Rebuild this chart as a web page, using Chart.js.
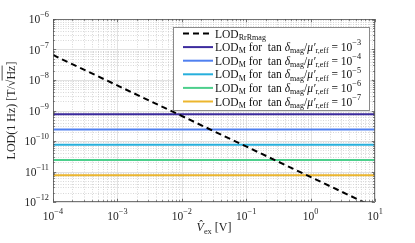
<!DOCTYPE html>
<html>
<head>
<meta charset="utf-8">
<script src="https://cdn.jsdelivr.net/npm/chart.js@4"></script>
<style>
  html, body { margin: 0; padding: 0; background: #fff; }
</style>
</head>
<body>
<canvas id="myChart" width="415" height="243"></canvas>
<script>
// values
const vexRange = [1e-4, 10];
const lodRrRmag = [6.6e-8, 6.6e-13];
const lossExponents = [-3, -4, -5, -6, -7];
const lodM = [7.5e-10, 2.4e-10, 7.5e-11, 2.4e-11, 7.5e-12];
const xDecades = [-4, -3, -2, -1, 0, 1];
const yDecades = [-12, -11, -10, -9, -8, -7, -6];
const lineColors = ['#3c2b9e', '#5080f0', '#26afdc', '#4ccf8c', '#ecb62e'];

const SERIF = '"Liberation Serif", "DejaVu Serif", serif';

// draws text made of pieces with optional sub/superscript, returns width
function rich(ctx, x, y, segs, size, measureOnly) {
    let cx = x;
    for (const s of segs) {
        let fs = size, dy = 0;
        if (s.s === 'sub') { fs = size * 0.7; dy = size * 0.28; }
        if (s.s === 'sup') { fs = size * 0.72; dy = -size * 0.42; }
        ctx.font = (s.i ? 'italic ' : '') + fs + 'px ' + SERIF;
        const w = ctx.measureText(s.t).width;
        if (!measureOnly) ctx.fillText(s.t, cx, y + dy);
        if (s.over && !measureOnly) {
            ctx.save();
            ctx.lineWidth = 0.8;
            ctx.strokeStyle = ctx.fillStyle;
            ctx.beginPath();
            ctx.moveTo(cx - 1, y - size * 0.78);
            ctx.lineTo(cx + w, y - size * 0.78);
            ctx.stroke();
            ctx.restore();
        }
        cx += w + (s.gap || 0);
    }
    return cx - x;
}

function minorValues(decades) {
    const out = [];
    for (let i = 0; i < decades.length - 1; i++) {
        for (let k = 2; k <= 9; k++) out.push(k * Math.pow(10, decades[i]));
    }
    return out;
}

const datasets = [{
    label: 'RrRmag',
    data: vexRange.map((v, i) => ({ x: v, y: lodRrRmag[i] })),
    borderColor: '#000',
    borderWidth: 2,
    borderDash: [6, 4],
    pointRadius: 0
}];
lodM.forEach((v, i) => {
    datasets.push({
        label: 'M' + lossExponents[i],
        data: vexRange.map(x => ({ x: x, y: v })),
        borderColor: lineColors[i],
        borderWidth: 2,
        pointRadius: 0
    });
});

const matlabAxes = {
    id: 'matlabAxes',
    beforeDatasetsDraw(chart) {
        const ctx = chart.ctx, a = chart.chartArea;
        const xs = chart.scales.x, ys = chart.scales.y;
        ctx.save();
        // minor grid, dotted
        ctx.strokeStyle = '#bdbdbd';
        ctx.lineWidth = 0.6;
        ctx.setLineDash([1, 1.5]);
        minorValues(xDecades).forEach(v => {
            const px = Math.round(xs.getPixelForValue(v)) + 0.5;
            ctx.beginPath(); ctx.moveTo(px, a.top); ctx.lineTo(px, a.bottom); ctx.stroke();
        });
        minorValues(yDecades).forEach(v => {
            const py = Math.round(ys.getPixelForValue(v)) + 0.5;
            ctx.beginPath(); ctx.moveTo(a.left, py); ctx.lineTo(a.right, py); ctx.stroke();
        });
        // major grid
        ctx.setLineDash([]);
        ctx.strokeStyle = '#dadada';
        ctx.lineWidth = 0.8;
        xDecades.forEach(d => {
            const px = Math.round(xs.getPixelForValue(Math.pow(10, d))) + 0.5;
            ctx.beginPath(); ctx.moveTo(px, a.top); ctx.lineTo(px, a.bottom); ctx.stroke();
        });
        yDecades.forEach(d => {
            const py = Math.round(ys.getPixelForValue(Math.pow(10, d))) + 0.5;
            ctx.beginPath(); ctx.moveTo(a.left, py); ctx.lineTo(a.right, py); ctx.stroke();
        });
        ctx.restore();
    },
    afterDatasetsDraw(chart) {
        const ctx = chart.ctx, a = chart.chartArea;
        const xs = chart.scales.x, ys = chart.scales.y;
        ctx.save();
        ctx.strokeStyle = '#555';
        ctx.lineWidth = 0.8;
        // tick marks on all four sides, pointing inward
        const tick = (px, len, vertical) => {
            ctx.beginPath();
            if (vertical) {
                ctx.moveTo(px, a.bottom); ctx.lineTo(px, a.bottom - len);
                ctx.moveTo(px, a.top); ctx.lineTo(px, a.top + len);
            } else {
                ctx.moveTo(a.left, px); ctx.lineTo(a.left + len, px);
                ctx.moveTo(a.right, px); ctx.lineTo(a.right - len, px);
            }
            ctx.stroke();
        };
        minorValues(xDecades).forEach(v => tick(Math.round(xs.getPixelForValue(v)) + 0.5, 1.8, true));
        minorValues(yDecades).forEach(v => tick(Math.round(ys.getPixelForValue(v)) + 0.5, 1.8, false));
        xDecades.forEach(d => tick(Math.round(xs.getPixelForValue(Math.pow(10, d))) + 0.5, 3.2, true));
        yDecades.forEach(d => tick(Math.round(ys.getPixelForValue(Math.pow(10, d))) + 0.5, 3.2, false));
        ctx.strokeRect(Math.round(a.left) + 0.5, Math.round(a.top) + 0.5,
            Math.round(a.right - a.left) - 1, Math.round(a.bottom - a.top) - 1);

        // tick labels
        ctx.fillStyle = '#262626';
        ctx.textBaseline = 'middle';
        ctx.textAlign = 'left';
        const fs = 11.5;
        xDecades.forEach(d => {
            const segs = [{ t: '10' }, { t: d < 0 ? '\u2212' + Math.abs(d) : String(d), s: 'sup' }];
            const w = rich(ctx, 0, 0, segs, fs, true);
            rich(ctx, xs.getPixelForValue(Math.pow(10, d)) - w / 2, a.bottom + 15, segs, fs);
        });
        yDecades.forEach(d => {
            const segs = [{ t: '10' }, { t: '\u2212' + Math.abs(d), s: 'sup' }];
            const w = rich(ctx, 0, 0, segs, fs, true);
            rich(ctx, a.left - 4 - w, ys.getPixelForValue(Math.pow(10, d)) + 1, segs, fs);
        });

        // axis titles
        const ts = 12;
        const xt = [{ t: 'V\u0302', i: true }, { t: 'ex', s: 'sub', gap: 3 }, { t: '[V]' }];
        const xw = rich(ctx, 0, 0, xt, ts, true);
        rich(ctx, (a.left + a.right) / 2 - xw / 2, a.bottom + 26, xt, ts);

        const yt = [{ t: 'LOD(1 Hz) [T/' }, { t: '\u221A' }, { t: 'Hz', over: true }, { t: ']' }];
        const yw = rich(ctx, 0, 0, yt, ts, true);
        ctx.translate(11.5, (a.top + a.bottom) / 2);
        ctx.rotate(-Math.PI / 2);
        rich(ctx, -yw / 2, 0, yt, ts);
        ctx.restore();
    },
    afterDraw(chart) {
        const ctx = chart.ctx;
        const box = { l: 173.5, t: 27.5, r: 369.5, b: 110.5 };
        ctx.save();
        ctx.fillStyle = '#fff';
        ctx.fillRect(box.l, box.t, box.r - box.l, box.b - box.t);
        ctx.strokeStyle = '#8a8a8a';
        ctx.lineWidth = 1;
        ctx.strokeRect(box.l, box.t, box.r - box.l, box.b - box.t);
        ctx.textBaseline = 'middle';
        ctx.textAlign = 'left';
        const fs = 11.5;
        chart.data.datasets.forEach((ds, i) => {
            const y = 33.5 + i * 13.6;
            ctx.strokeStyle = ds.borderColor;
            ctx.lineWidth = 2;
            ctx.setLineDash(ds.borderDash || []);
            ctx.beginPath();
            ctx.moveTo(183, y); ctx.lineTo(213, y);
            ctx.stroke();
            ctx.setLineDash([]);
            ctx.fillStyle = '#111';
            let segs;
            if (i === 0) {
                segs = [{ t: 'LOD' }, { t: 'RrRmag', s: 'sub' }];
            } else {
                segs = [{ t: 'LOD' }, { t: 'M', s: 'sub' }, { t: ' for  tan ' }, { t: '\u03B4', i: true },
                    { t: 'mag', s: 'sub' }, { t: '/' }, { t: '\u03BC\u2032', i: true },
                    { t: 'r,eff', s: 'sub' }, { t: ' = 10' }, { t: '\u2212' + Math.abs(lossExponents[i - 1]), s: 'sup' }];
            }
            rich(ctx, 215, y + 1, segs, fs);
        });
        ctx.restore();
    }
};

const config = {
    type: 'line',
    data: { datasets: datasets },
    plugins: [matlabAxes],
    options: {
        responsive: false,
        animation: false,
        layout: { padding: { left: 53, top: 19, right: 40, bottom: 41 } },
        plugins: { legend: { display: false }, tooltip: { enabled: false } },
        scales: {
            x: { type: 'logarithmic', min: vexRange[0], max: vexRange[1], display: false },
            y: { type: 'logarithmic', min: 1e-12, max: 1e-6, display: false }
        }
    }
};

var myChart = new Chart(document.getElementById('myChart'), config);
</script>
</body>
</html>
